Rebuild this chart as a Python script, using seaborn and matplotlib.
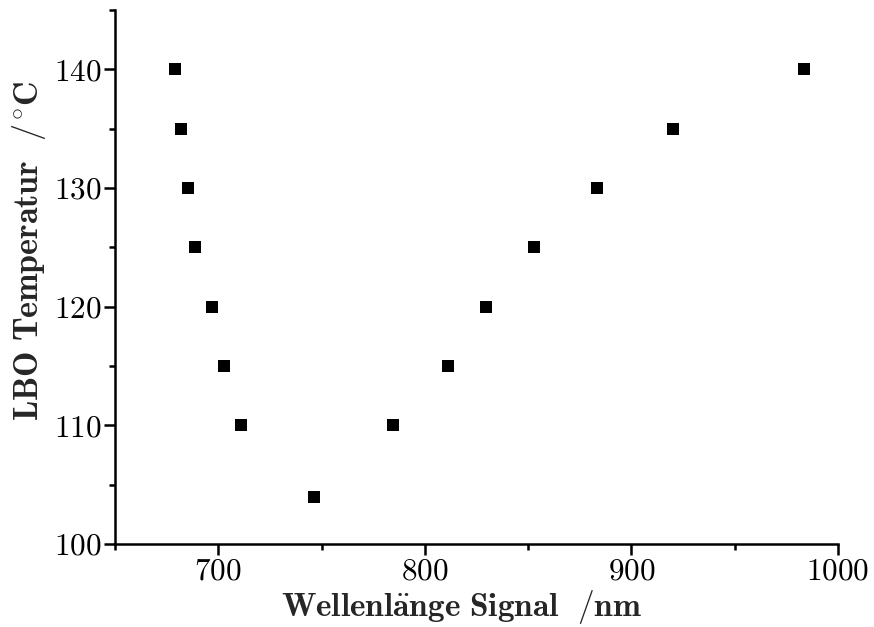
import matplotlib
matplotlib.use("Agg")
import matplotlib.pyplot as plt
import seaborn as sns
import pandas as pd
from matplotlib.ticker import MultipleLocator

# --- data ---
wavelength = [679.0, 681.9, 685.4, 688.8, 697.1, 702.9, 711.2, 746.3,
              784.4, 811.2, 829.8, 852.7, 883.4, 920.0, 983.4]
temperature = [140, 135, 130, 125, 120, 115, 110, 104,
               110, 115, 120, 125, 130, 135, 140]

df = pd.DataFrame({"Wellenlaenge": wavelength, "Temperatur": temperature})

sns.set_style("ticks")
plt.rcParams.update({
    "font.family": ["cmr10", "DejaVu Serif"],
    "mathtext.fontset": "cm",
    "axes.formatter.use_mathtext": True,
    "font.size": 16,
    "axes.linewidth": 1.8,
    "xtick.major.width": 1.8,
    "ytick.major.width": 1.8,
    "xtick.minor.width": 1.8,
    "ytick.minor.width": 1.8,
    "xtick.major.size": 8,
    "ytick.major.size": 8,
    "xtick.minor.size": 4.5,
    "ytick.minor.size": 4.5,
    "xtick.direction": "out",
    "ytick.direction": "out",
    "xtick.color": "black",
    "ytick.color": "black",
    "axes.edgecolor": "black",
})

fig = plt.figure(figsize=(8.74, 6.27), dpi=100)
ax = fig.add_axes([0.1316, 0.1324, 0.8272, 0.8516])

sns.scatterplot(data=df, x="Wellenlaenge", y="Temperatur", ax=ax,
                marker="s", color="black", s=80, linewidth=0, legend=False)

ax.set_xlim(650, 1000)
ax.set_ylim(100, 145)
ax.xaxis.set_major_locator(MultipleLocator(100))
ax.xaxis.set_minor_locator(MultipleLocator(50))
ax.yaxis.set_major_locator(MultipleLocator(10))
ax.yaxis.set_minor_locator(MultipleLocator(5))
ax.tick_params(axis="both", which="major", labelsize=22.5, pad=2)

sns.despine(ax=ax)

ax.set_xlabel(r"$\mathbf{Wellenl\ddot{a}nge\ Signal\ \ /nm}$", fontsize=24)
ax.set_ylabel(r"$\mathbf{LBO\ Temperatur\ \ /^{\circ}C}$", fontsize=24.5)
ax.xaxis.set_label_coords(0.48, -0.083)
ax.yaxis.set_label_coords(-0.093, 0.55)

fig.savefig("out.png", dpi=100)
